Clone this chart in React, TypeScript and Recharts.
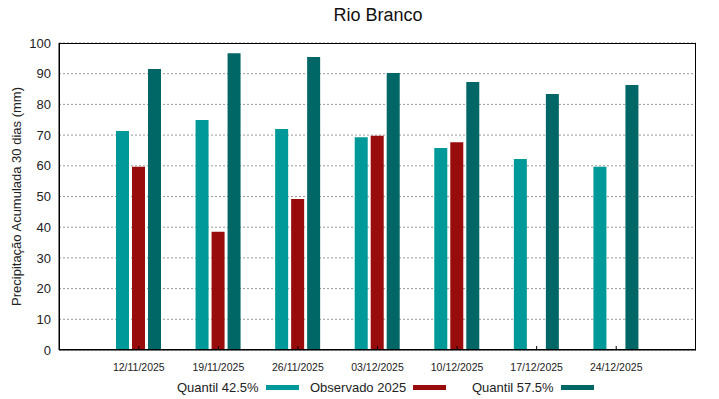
import { BarChart, Bar, XAxis, YAxis, CartesianGrid, Label } from "recharts";

// Semanas (fim do período de 30 dias) e valores.
const CATEGORIAS = [
  "12/11/2025",
  "19/11/2025",
  "26/11/2025",
  "03/12/2025",
  "10/12/2025",
  "17/12/2025",
  "24/12/2025",
];
const QUANTIL_425 = [71.3, 74.9, 72.0, 69.3, 65.8, 62.2, 59.7];
const OBSERVADO_2025: (number | null)[] = [59.7, 38.5, 49.2, 69.8, 67.7, null, null];
const QUANTIL_575 = [91.5, 96.7, 95.4, 90.2, 87.3, 83.4, 86.3];
const Y_TICKS = [0, 10, 20, 30, 40, 50, 60, 70, 80, 90, 100];

const SERIES = [
  { key: "q425", label: "Quantil 42.5%", fill: "#009999" },
  { key: "obs", label: "Observado 2025", fill: "#990c0c" },
  { key: "q575", label: "Quantil 57.5%", fill: "#006666" },
];

const dados = CATEGORIAS.map((data, i) => ({
  data,
  q425: QUANTIL_425[i],
  obs: OBSERVADO_2025[i],
  q575: QUANTIL_575[i],
}));

const FONTE = "'Liberation Sans', Arial, sans-serif";

// área de plotagem (moldura preta em volta, como no gnuplot)
const PLOT = { left: 59, top: 43, right: 23, bottom: 49 };
const TICK_MARGIN = 8;

// legenda no estilo gnuplot: texto primeiro, amostra depois
const LEGENDA_X = [177, 310, 472];

// rótulo do eixo x + tracinho para dentro (gnuplot desenha os ticks para dentro)
function TickData(props: any) {
  const { x, y, payload } = props;
  const eixoY = y - 6 - TICK_MARGIN;
  return (
    <g>
      <line x1={x} x2={x} y1={eixoY} y2={eixoY - 4} stroke="#000" />
      <text
        x={x}
        y={y}
        dy="0.71em"
        textAnchor="middle"
        fontSize={10.5}
        fill="#222"
        fontFamily={FONTE}
      >
        {payload.value}
      </text>
    </g>
  );
}

export default function App() {
  return (
    <div
      style={{
        position: "absolute",
        left: 0,
        top: 0,
        width: 719,
        height: 399,
        background: "#fff",
        fontFamily: FONTE,
      }}
    >
      <div
        style={{
          position: "absolute",
          top: 5,
          left: 0,
          width: 756,
          textAlign: "center",
          fontSize: 18,
          color: "#111",
        }}
      >
        Rio Branco
      </div>
      <BarChart
        width={719}
        height={399}
        data={dados}
        margin={{ top: PLOT.top, right: PLOT.right, left: 0, bottom: 0 }}
        barSize={13}
        barGap={3}
      >
        <CartesianGrid vertical={false} stroke="#999" strokeDasharray="2 2" />
        <XAxis
          dataKey="data"
          height={PLOT.bottom}
          padding={{ left: 40, right: 40 }}
          tickLine={false}
          tickMargin={TICK_MARGIN}
          axisLine={{ stroke: "#000" }}
          tick={<TickData />}
          interval={0}
        />
        <YAxis
          width={PLOT.left}
          domain={[0, 100]}
          ticks={Y_TICKS}
          tickLine={false}
          axisLine={{ stroke: "#000" }}
          tick={{ fontSize: 13, fill: "#222", fontFamily: FONTE }}
        >
          <Label
            value="Precipitação Acumulada 30 dias (mm)"
            angle={-90}
            position="insideLeft"
            offset={16}
            style={{ textAnchor: "middle", fontSize: 13, fill: "#222", fontFamily: FONTE }}
          />
        </YAxis>
        {SERIES.map((s) => (
          <Bar
            key={s.key}
            dataKey={s.key}
            name={s.label}
            fill={s.fill}
            isAnimationActive={false}
          />
        ))}
      </BarChart>
      <div
        style={{
          position: "absolute",
          left: PLOT.left,
          top: PLOT.top,
          width: 719 - PLOT.left - PLOT.right,
          height: 399 - PLOT.top - PLOT.bottom,
          boxSizing: "border-box",
          border: "1px solid #000",
          pointerEvents: "none",
        }}
      />
      {SERIES.map((s, i) => (
        <div
          key={s.key}
          style={{
            position: "absolute",
            left: LEGENDA_X[i],
            top: 380,
            display: "flex",
            alignItems: "center",
            fontSize: 13,
            color: "#222",
            whiteSpace: "nowrap",
          }}
        >
          <span>{s.label}</span>
          <span
            style={{
              display: "inline-block",
              width: 33,
              height: 5,
              marginLeft: 7,
              background: s.fill,
            }}
          />
        </div>
      ))}
    </div>
  );
}
